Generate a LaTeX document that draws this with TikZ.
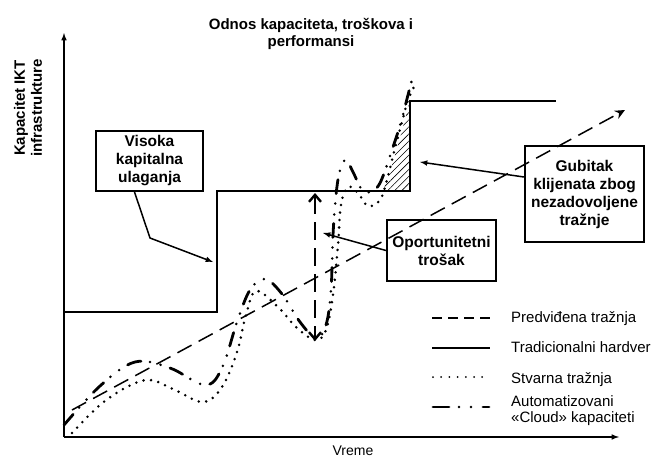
\documentclass[tikz,border=0pt]{standalone}
\usepackage{fontspec}
\setmainfont{Liberation Sans}
\usetikzlibrary{arrows,arrows.meta,positioning,patterns.meta}

\tikzset{
  notebox/.style={draw, line width=2pt, align=center, inner sep=0pt, font=\fontsize{15.5}{18}\selectfont\bfseries},
  keytext/.style={anchor=base west, inner sep=0pt, align=left, font=\fontsize{15}{15.5}\selectfont},
  forecast/.style={line width=1.5pt, dash pattern=on 16pt off 8pt},
  hardware/.style={line width=2pt},
  demand/.style={line width=2.8pt, line cap=round, dash pattern=on 0pt off 7.5pt},
  cloud/.style={line width=2.8pt, line cap=round, dash pattern=on 14pt off 9pt on 0pt off 11pt on 0pt off 10pt},
  pointer/.style={line width=1.5pt, -latex},
}

\begin{document}
\begin{tikzpicture}[x=1pt, y=-1pt]
  \useasboundingbox (0,0) rectangle (653,458);

  % osovine i naslovi
  \draw[line width=1.5pt, -latex] (64,437) -- (64,33);
  \draw[line width=1.5pt, -latex] (64,437) -- (619,437);
  \node[font=\fontsize{14}{16}\selectfont] (time) at (353,451) {Vreme};
  \node[rotate=90, align=center, font=\fontsize{15}{17}\selectfont\bfseries] (capacity) at (28,108) {Kapacitet IKT\\infrastrukture};
  \node[align=center, font=\fontsize{15}{17.5}\selectfont\bfseries] (title) at (311,34) {Odnos kapaciteta, troškova i\\performansi};

  % izgubljeni klijenti
  \fill[pattern={Lines[angle=45, distance=5pt, line width=0.6pt]}] (383,191) .. controls (393,165) and (401,135) .. (409,104) -- (409,191) -- cycle;

  % krive
  \draw[hardware] (64,312) -- (217,312) -- (217,191) -- (410,191) -- (410,101) -- (556,101);
  \draw[forecast, -{Stealth[length=10pt, width=9pt]}] (72,410) -- (625,110);
  \draw[demand] plot[smooth, tension=0.6] coordinates {(72,433) (100,405) (127,387) (150,380) (175,390) (203,402) (222,387) (237,352) (246,315) (256,291) (278,307) (296,327) (315,340) (326,330) (333,295) (338,245) (341,205) (348,187) (358,193) (368,206) (380,200) (387,180) (394,152) (402,122) (408,100) (415,85)};
  \draw[cloud] plot[smooth, tension=0.6] coordinates {(64,425) (100,386) (135,362) (170,368) (205,385) (222,368) (237,322) (250,290) (265,279) (282,294) (300,322) (316,338) (326,325) (331,290) (333,235) (336,195) (340,170) (346,160) (353,172) (362,190) (370,192) (380,183) (392,150) (401,122) (408,95) (414,72)};

  % oportunitetni trosak
  \coordinate (gaptop) at (315,193);
  \coordinate (gapbot) at (315,341);
  \draw[line width=2.4pt, dash pattern=on 18pt off 8pt, {Straight Barb[length=7pt, width=12pt]}-{Straight Barb[length=7pt, width=12pt]}] (gaptop) -- (gapbot);

  % napomene
  \node[notebox, minimum width=107pt, minimum height=60pt] (capex) at (149.5,161) {Visoka\\kapitalna\\ulaganja};
  \node[notebox, minimum width=119pt, minimum height=96pt] (loss) at (584.5,194) {Gubitak\\klijenata zbog\\nezadovoljene\\tražnje};
  \node[notebox, minimum width=109pt, minimum height=61pt] (opp) at (441.5,250.5) {Oportunitetni\\trošak};
  \coordinate (capextip) at (213,262);
  \coordinate (losstip) at (420,162);
  \coordinate (opptip) at (323,233);
  \draw[pointer] ([xshift=-15pt]capex.south) -- (150,238) -- (capextip);
  \draw[pointer] ([yshift=17pt]loss.west) -- (losstip);
  \draw[pointer] (opp.west) -- (opptip);

  % legenda
  \node[keytext] (kforecast) at (511,322.5) {Predviđena tražnja};
  \draw[line width=1.8pt, dash pattern=on 10pt off 6pt] (432,318) -- (490,318);
  \node[keytext] (khardware) at (511,352) {Tradicionalni hardver};
  \draw[hardware] (432,348) -- (490,348);
  \node[keytext] (kdemand) at (511,383) {Stvarna tražnja};
  \draw[line width=2pt, line cap=round, dash pattern=on 0pt off 8.2pt] (433,377) -- (490,377);
  \node[keytext, anchor=west] (kcloud) at (511,410.5) {Automatizovani\\«Cloud» kapaciteti};
  \draw[line width=2.8pt, line cap=round, dash pattern=on 16pt off 10pt on 0pt off 12pt on 0pt off 12pt] (433,407) -- (489,407);
\end{tikzpicture}
\end{document}
